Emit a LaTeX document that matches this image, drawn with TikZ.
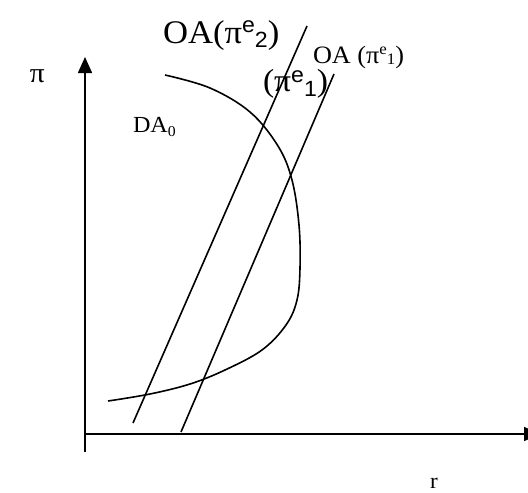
\documentclass[tikz,border=0pt]{standalone}
\usepackage{fontspec}
\setmainfont{Liberation Serif}[FakeStretch=1.05]
\newfontfamily\supsans{Liberation Sans}[FakeStretch=1.05]
\usetikzlibrary{arrows.meta}
\begin{document}
\begin{tikzpicture}[x=1pt,y=-1pt,
  axis/.style={line width=1.6pt},
  ln/.style={line width=1.6pt},
  lbl/.style={anchor=base west, inner sep=0pt, outer sep=0pt}]
\useasboundingbox (0,0) rectangle (528,493);
% axes
\coordinate (ybot) at (85,452);
\coordinate (ytop) at (85,57);
\coordinate (xleft) at (85,434);
\coordinate (xright) at (540,434);
\draw[axis,-{Triangle[length=16pt,width=14pt]}] (ybot) -- (ytop);
\draw[axis,-{Triangle[length=16pt,width=14pt]}] (xleft) -- (xright);
% OA lines
\coordinate (l1b) at (133,423);
\coordinate (l1t) at (307,26);
\coordinate (l2b) at (181,432);
\coordinate (l2t) at (334,74);
\draw[ln] (l1b) -- (l1t);
\draw[ln] (l2b) -- (l2t);
% DA curve
\draw[ln] plot[smooth, tension=0.6] coordinates {(165,75) (210,88) (250,112) (278,146) (292,180) (299,225) (300,268) (297,300) (286,325) (262,350) (225,370) (190,384) (150,394) (108,401)};
% labels
\node[lbl] (piLabel) at (30,82) {\fontsize{28}{32}\selectfont π};
\node[lbl] (da) at (133,132) {\fontsize{23}{27}\selectfont DA\raisebox{-4pt}{\fontsize{15}{18}\selectfont 0}};
\node[lbl] (oa2) at (163,43) {\fontsize{33}{38}\selectfont OA(π\raisebox{11pt}{\supsans\fontsize{22}{25}\selectfont e}\raisebox{-4pt}{\supsans\fontsize{22}{25}\selectfont 2})};
\node[lbl] (oa1) at (313,63) {\fontsize{25}{29}\selectfont OA (π\raisebox{9pt}{\fontsize{16}{18}\selectfont e}\raisebox{-1pt}{\fontsize{16}{18}\selectfont 1})};
\node[lbl] (frag) at (263,91) {\fontsize{32}{37}\selectfont (π\raisebox{9pt}{\supsans\fontsize{22}{25}\selectfont e}\raisebox{-5pt}{\supsans\fontsize{22}{25}\selectfont 1})};
\node[lbl] (rLabel) at (430,488) {\fontsize{22}{26}\selectfont r};
\end{tikzpicture}
\end{document}
